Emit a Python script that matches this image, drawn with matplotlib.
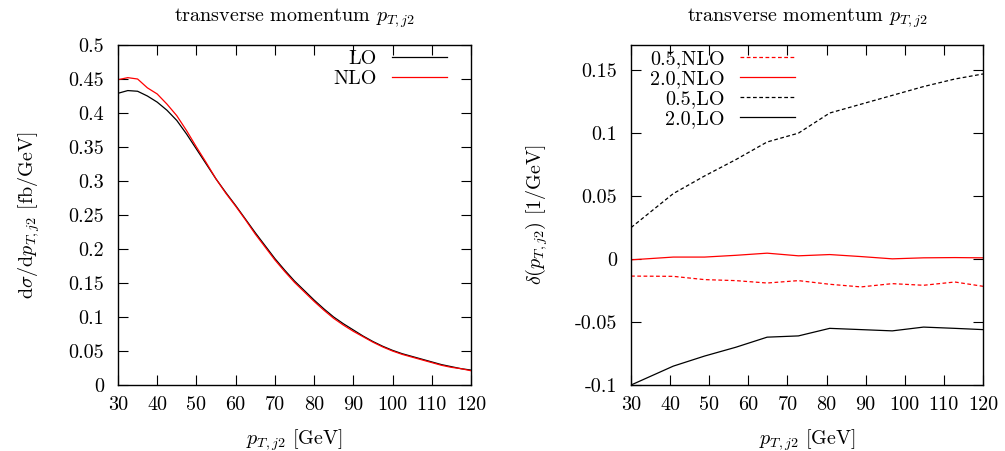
import matplotlib
matplotlib.use('Agg')
import matplotlib.pyplot as plt
from matplotlib.ticker import FuncFormatter, MultipleLocator

# fuente tipo LaTeX (Computer Modern)
plt.rcParams['font.family'] = 'serif'
plt.rcParams['font.serif'] = ['cmr10']
plt.rcParams['mathtext.fontset'] = 'cm'
plt.rcParams['axes.unicode_minus'] = False
plt.rcParams['axes.formatter.use_mathtext'] = True

# panel izquierdo: distribucion
pt = [30, 32.5, 35, 37.5, 40, 42.5, 45, 47.5, 50, 52.5, 55, 57.5, 60, 62.5, 65,
      67.5, 70, 72.5, 75, 77.5, 80, 82.5, 85, 87.5, 90, 92.5, 95, 97.5, 100,
      102.5, 105, 107.5, 110, 112.5, 115, 117.5, 120]
lo = [0.429, 0.433, 0.432, 0.425, 0.416, 0.404, 0.389, 0.369, 0.347, 0.325, 0.303,
      0.283, 0.264, 0.244, 0.224, 0.205, 0.186, 0.169, 0.153, 0.139, 0.125, 0.112,
      0.100, 0.090, 0.081, 0.072, 0.064, 0.057, 0.051, 0.046, 0.042, 0.038, 0.034,
      0.030, 0.027, 0.024, 0.022]
nlo = [0.449, 0.452, 0.450, 0.437, 0.428, 0.413, 0.396, 0.374, 0.350, 0.327, 0.303,
       0.282, 0.263, 0.243, 0.222, 0.203, 0.184, 0.167, 0.151, 0.137, 0.123, 0.110,
       0.098, 0.088, 0.079, 0.071, 0.063, 0.056, 0.050, 0.045, 0.041, 0.037, 0.033,
       0.029, 0.026, 0.024, 0.021]

# panel derecho: variacion de escala
pt_d = [30, 40.8, 48.8, 56.8, 64.8, 72.8, 80.8, 88.8, 96.8, 104.8, 112.8, 120]
nlo_05 = [-0.0135, -0.0137, -0.0163, -0.0171, -0.019, -0.0171, -0.020, -0.0221,
          -0.0195, -0.0208, -0.0182, -0.0216]
nlo_20 = [-0.0006, 0.0016, 0.0016, 0.003, 0.0047, 0.0026, 0.0036, 0.002,
          0.0002, 0.001, 0.0012, 0.001]
lo_05 = [0.025, 0.052, 0.066, 0.079, 0.093, 0.100, 0.116, 0.123, 0.130, 0.137,
         0.143, 0.147]
lo_20 = [-0.100, -0.085, -0.077, -0.070, -0.062, -0.061, -0.055, -0.056, -0.057,
         -0.054, -0.055, -0.056]

fs = 14.5
fmt = FuncFormatter(lambda v, p: '%g' % round(v, 4))
leg_kw = dict(loc='upper right', frameon=False, markerfirst=False, fontsize=fs,
              handlelength=2.73, handletextpad=0.75, labelspacing=0.1,
              borderpad=0, borderaxespad=0)

fig = plt.figure(figsize=(10.05, 4.51), dpi=100)
ax1 = fig.add_axes([0.1174, 0.1463, 0.3512, 0.7539])
ax2 = fig.add_axes([0.6279, 0.1463, 0.3502, 0.7539])

ax1.plot(pt, lo, color='black', lw=0.9, label='LO')
ax1.plot(pt, nlo, color='red', lw=0.9, label='NLO')
ax1.set_xlim(30, 120)
ax1.set_ylim(0, 0.5)
ax1.yaxis.set_major_locator(MultipleLocator(0.05))
ax1.set_ylabel(r'd$\sigma$/d$p_{T,j2}$ [fb/GeV]', fontsize=fs)
ax1.yaxis.set_label_coords(-0.215, 0.5)
ax1.legend(bbox_to_anchor=(0.932, 0.985), **leg_kw)

ax2.plot(pt_d, nlo_05, color='red', lw=0.9, ls=(0, (3, 2)), label='0.5,NLO')
ax2.plot(pt_d, nlo_20, color='red', lw=0.9, label='2.0,NLO')
ax2.plot(pt_d, lo_05, color='black', lw=0.9, ls=(0, (3, 2)), label='0.5,LO')
ax2.plot(pt_d, lo_20, color='black', lw=0.9, label='2.0,LO')
ax2.set_xlim(30, 120)
ax2.set_ylim(-0.1, 0.17)
ax2.yaxis.set_major_locator(MultipleLocator(0.05))
ax2.set_ylabel(r'$\delta(p_{T,j2})$ [1/GeV]', fontsize=fs)
ax2.yaxis.set_label_coords(-0.23, 0.5)
ax2.legend(bbox_to_anchor=(0.466, 0.985), **leg_kw)

for ax in (ax1, ax2):
    ax.xaxis.set_major_locator(MultipleLocator(10))
    ax.xaxis.set_major_formatter(fmt)
    ax.yaxis.set_major_formatter(fmt)
    ax.tick_params(direction='in', top=True, right=True, length=7, width=0.8,
                   labelsize=fs)
    ax.tick_params(axis='x', pad=8)
    ax.tick_params(axis='y', pad=10)
    for s in ax.spines.values():
        s.set_linewidth(1.0)
    ax.set_xlabel(r'$p_{T,j2}$ [GeV]', fontsize=fs)
    ax.xaxis.set_label_coords(0.5, -0.124)
    ax.text(0.5, 1.08, r'transverse momentum $p_{T,j2}$', fontsize=fs,
            ha='center', va='center', transform=ax.transAxes)

plt.savefig('out.png', dpi=100)
plt.close()
